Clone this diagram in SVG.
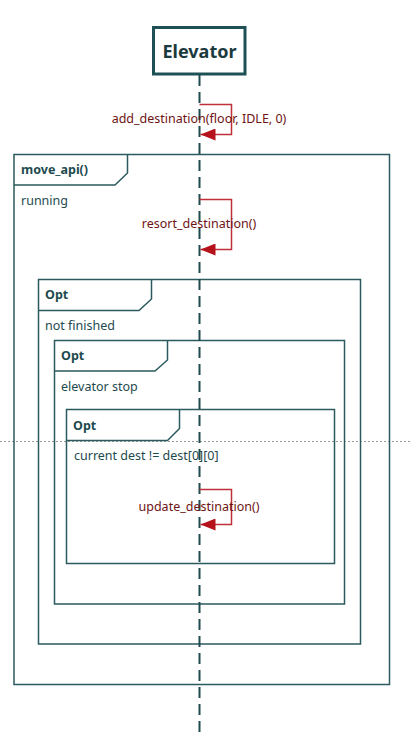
<svg xmlns="http://www.w3.org/2000/svg" width="411" height="736" viewBox="0 0 411 736">
<style>
.frame{fill:none;stroke:#2b5a5e;stroke-width:1.5}
.ft{font-family:"Noto Sans","Open Sans",sans-serif;font-size:12.5px;fill:#1e4a4e}
.fb{font-weight:bold}
.msg{fill:none;stroke:#c0303a;stroke-width:1.5}
.mt{font-family:"Noto Sans","Open Sans",sans-serif;font-size:12.5px;fill:#6e1414;text-anchor:middle}
</style>
<defs>
<marker id="ah" markerWidth="16" markerHeight="12" refX="15" refY="6" orient="auto" markerUnits="userSpaceOnUse">
<path d="M0,0 L15,6 L0,12 Z" fill="#b5121b"/>
</marker>
</defs>
<rect width="411" height="736" fill="#ffffff"/>
<line x1="0" y1="441.5" x2="411" y2="441.5" stroke="#999" stroke-width="1" stroke-dasharray="2,2"/>
<g id="frame-move-api">
<rect class="frame" x="14" y="154.5" width="375.5" height="530"/>
<path class="frame" d="M14,185 H115 L127.5,173 V154.5"/>
<text class="ft fb" x="21" y="174">move_api()</text>
<text class="ft" x="21" y="205">running</text>
</g>
<g id="frame-opt-1">
<rect class="frame" x="38.5" y="279.5" width="322" height="364.5"/>
<path class="frame" d="M38.5,310.5 H139 L151.5,299 V279.5"/>
<text class="ft fb" x="45" y="299">Opt</text>
<text class="ft" x="45" y="330">not finished</text>
</g>
<g id="frame-opt-2">
<rect class="frame" x="54.5" y="340.5" width="290" height="263.5"/>
<path class="frame" d="M54.5,371 H155 L167.5,360 V340.5"/>
<text class="ft fb" x="61" y="360">Opt</text>
<text class="ft" x="61" y="391">elevator stop</text>
</g>
<g id="frame-opt-3">
<rect class="frame" x="66.5" y="409.5" width="268" height="154"/>
<path class="frame" d="M66.5,440.5 H167.5 L179.5,428.5 V409.5"/>
<text class="ft fb" x="73" y="430">Opt</text>
<text class="ft" x="74" y="460">current dest != dest[0][0]</text>
</g>
<g id="lifeline">
<line x1="199.5" y1="75" x2="199.5" y2="736" stroke="#1f4a4e" stroke-width="2" stroke-dasharray="11,6"/>
</g>
<g id="elevator">
<rect x="153.5" y="27.5" width="91.5" height="46.5" fill="#ffffff" stroke="#1f5055" stroke-width="3"/>
<text x="199.5" y="58" font-family="Noto Sans, Open Sans, sans-serif" font-size="18" font-weight="bold" fill="#1a3a3e" text-anchor="middle">Elevator</text>
</g>
<g id="connectors">
<path class="msg" d="M199.5,104.5 H231.5 V134.5 H200.5" marker-end="url(#ah)"/>
<text class="mt" x="199" y="123">add_destination(floor, IDLE, 0)</text>
<path class="msg" d="M199.5,199.5 H231.5 V249.5 H200.5" marker-end="url(#ah)"/>
<text class="mt" x="199" y="228">resort_destination()</text>
<path class="msg" d="M199.5,489.5 H231.5 V524.5 H200.5" marker-end="url(#ah)"/>
<text class="mt" x="199" y="511">update_destination()</text>
</g>
</svg>
